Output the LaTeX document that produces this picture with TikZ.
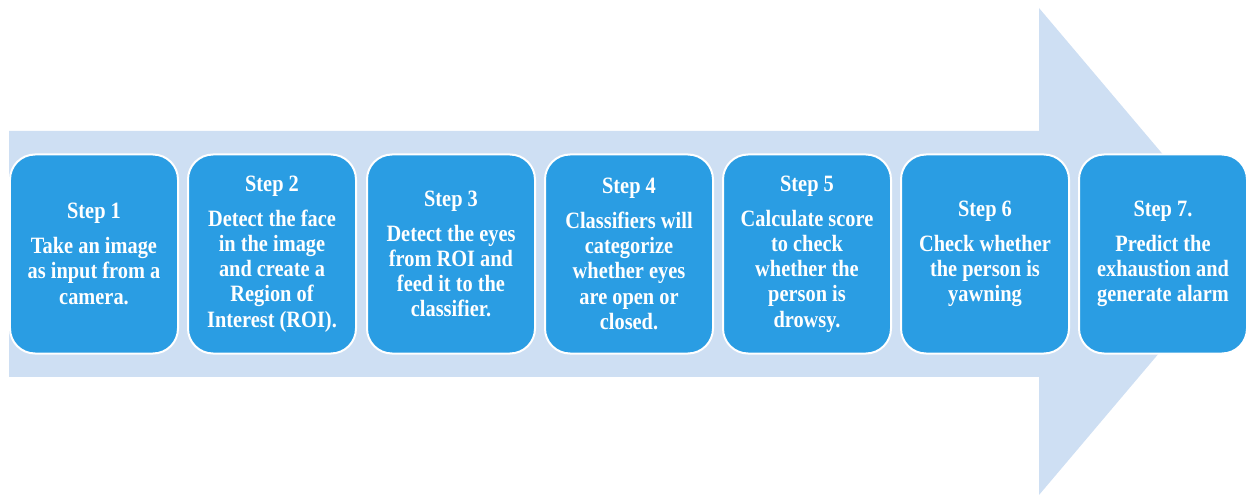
\documentclass[tikz,border=0pt]{standalone}
\usepackage{fontspec}
\setmainfont{Liberation Serif}
\newfontfamily\stepfont[FakeStretch=0.87]{Liberation Serif}
\definecolor{arrowbg}{HTML}{CEDFF3}
\definecolor{stepblue}{HTML}{2A9DE3}
\begin{document}
\begin{tikzpicture}[x=1bp,y=-1bp,
  stepbox/.style={draw=white, line width=2bp, fill=stepblue,
    rounded corners=25bp, minimum width=168bp, minimum height=199bp,
    text=white, font=\stepfont\bfseries\fontsize{23.5}{25.4}\selectfont,
    align=center, inner sep=0pt}]
\useasboundingbox (0,0) rectangle (1246,495);
% large background arrow
\fill[arrowbg] (9,131) -- (1039,131) -- (1039,8) -- (1245,251.5)
  -- (1039,495) -- (1039,377) -- (9,377) -- cycle;
% process steps
\node[stepbox] (s1) at (94,254) {Step 1\\[9.5bp]Take an image\\as input from a\\camera.};
\node[stepbox] (s2) at (272,254) {Step 2\\[9.5bp]Detect the face\\in the image\\and create a\\Region of\\Interest (ROI).};
\node[stepbox] (s3) at (451,254) {Step 3\\[9.5bp]Detect the eyes\\from ROI and\\feed it to the\\classifier.};
\node[stepbox] (s4) at (629,254) {Step 4\\[9.5bp]Classifiers will\\categorize\\whether eyes\\are open or\\closed.};
\node[stepbox] (s5) at (807,254) {Step 5\\[9.5bp]Calculate score\\to check\\whether the\\person is\\drowsy.};
\node[stepbox] (s6) at (985,254) {Step 6\\[9.5bp]Check whether\\the person is\\yawning};
\node[stepbox] (s7) at (1163,254) {Step 7.\\[9.5bp]Predict the\\exhaustion and\\generate alarm};
\end{tikzpicture}
\end{document}
